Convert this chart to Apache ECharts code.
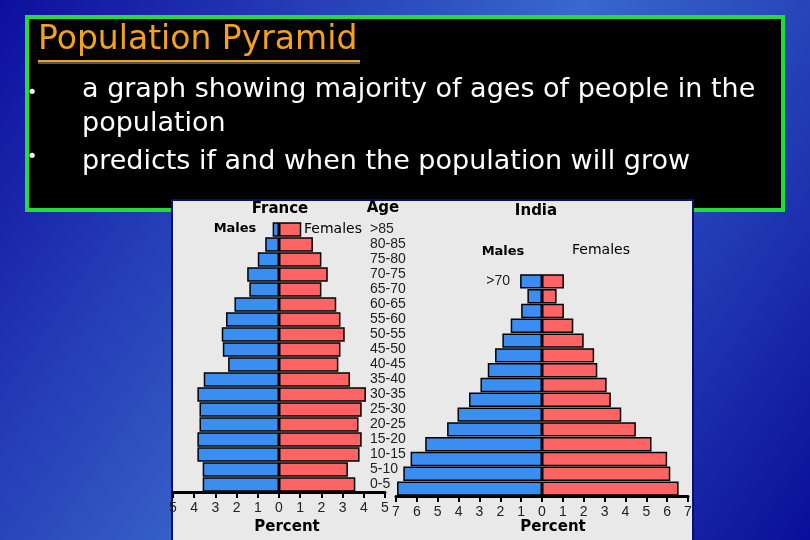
<!DOCTYPE html>
<html>
<head>
<meta charset="utf-8">
<script src="https://cdn.jsdelivr.net/npm/echarts@6/dist/echarts.min.js"></script>
<style>
html,body{margin:0;padding:0;width:810px;height:540px;overflow:hidden;}
#chart{width:810px;height:540px;}
</style>
</head>
<body>
<div id="chart"></div>
<script>
// ---- Data ----
const franceAges = ['0-5','5-10','10-15','15-20','20-25','25-30','30-35','35-40','40-45','45-50','50-55','55-60','60-65','65-70','70-75','75-80','80-85','>85'];
const franceMales   = [3.6,3.6,3.85,3.85,3.75,3.75,3.85,3.55,2.4,2.65,2.7,2.5,2.1,1.4,1.5,1.0,0.65,0.3];
const franceFemales = [3.6,3.25,3.8,3.9,3.75,3.9,4.1,3.35,2.8,2.9,3.1,2.9,2.7,2.0,2.3,2.0,1.6,1.05];

const indiaAges = ['0-5','5-10','10-15','15-20','20-25','25-30','30-35','35-40','40-45','45-50','50-55','55-60','60-65','65-70','>70'];
const indiaMales   = [6.95,6.65,6.3,5.6,4.55,4.05,3.5,2.95,2.6,2.25,1.9,1.5,1.0,0.7,1.05];
const indiaFemales = [6.55,6.15,6.0,5.25,4.5,3.8,3.3,3.1,2.65,2.5,2.0,1.5,1.05,0.7,1.05];

const franceTicks = {min:-5, max:5, interval:1};
const indiaTicks  = {min:-7, max:7, interval:1};

const slideTitle = 'Population Pyramid';
const bullet1a = 'a graph showing majority of ages of people in the';
const bullet1b = 'population';
const bullet2  = 'predicts if and when the population will grow';

const BLUE = '#3a8ef2', RED = '#ff6464';

const chart = echarts.init(document.getElementById('chart'), null, {renderer:'canvas'});

const tickFont = {color:'#222', fontFamily:'Liberation Sans', fontSize:14};
function xAxisCfg(grid, t, namePad){
  return {
    type:'value', gridIndex:grid, min:t.min, max:t.max, interval:t.interval, z:3,
    axisLine:{show:true, lineStyle:{color:'#000', width:3}},
    axisTick:{show:true, length:6, lineStyle:{color:'#000', width:2}},
    axisLabel:Object.assign({margin:9, formatter:v=>String(Math.abs(v))}, tickFont),
    splitLine:{show:false},
    name:'Percent', nameLocation:'middle', nameGap:24,
    nameTextStyle:{color:'#000', fontFamily:'DejaVu Sans', fontWeight:'bold', fontSize:15, padding:[0,0,0,namePad]}
  };
}
const barBase = {type:'bar', barCategoryGap:'3%', z:4,
  itemStyle:{borderColor:'#000', borderWidth:1.5}};

const textFont = '27px "DejaVu Sans"';
const option = {
  backgroundColor:{type:'linear', x:0, y:0, x2:1, y2:1, colorStops:[
    {offset:0, color:'#0e0e9e'},{offset:0.5, color:'#3a68cc'},{offset:1, color:'#0a0e9a'}]},
  animation:false,
  grid:[
    {left:173, right:810-385, top:222, bottom:540-493},
    {left:396, right:810-688, top:274, bottom:540-496}
  ],
  xAxis:[ xAxisCfg(0, franceTicks, 16), xAxisCfg(1, indiaTicks, 22) ],
  yAxis:[
    {type:'category', gridIndex:0, data:franceAges, position:'right', offset:-15, z:3,
     axisLine:{show:false}, axisTick:{show:false},
     axisLabel:Object.assign({margin:0, align:'left', interval:0}, tickFont)},
    {type:'category', gridIndex:1, data:indiaAges, position:'left', offset:-118, z:3,
     axisLine:{show:false}, axisTick:{show:false},
     axisLabel:Object.assign({margin:4, interval:0, formatter:v=> v==='>70'? v : ''}, tickFont)}
  ],
  series:[
    Object.assign({}, barBase, {name:'France Males', xAxisIndex:0, yAxisIndex:0, stack:'fr',
      data:franceMales.map(v=>-v), itemStyle:Object.assign({}, barBase.itemStyle, {color:BLUE})}),
    Object.assign({}, barBase, {name:'France Females', xAxisIndex:0, yAxisIndex:0, stack:'fr',
      data:franceFemales, itemStyle:Object.assign({}, barBase.itemStyle, {color:RED})}),
    Object.assign({}, barBase, {name:'India Males', xAxisIndex:1, yAxisIndex:1, stack:'in',
      data:indiaMales.map(v=>-v), itemStyle:Object.assign({}, barBase.itemStyle, {color:BLUE})}),
    Object.assign({}, barBase, {name:'India Females', xAxisIndex:1, yAxisIndex:1, stack:'in',
      data:indiaFemales, itemStyle:Object.assign({}, barBase.itemStyle, {color:RED})})
  ],
  graphic:[
    {type:'rect', z:0, shape:{x:27, y:17, width:756, height:193}, style:{fill:'#000', stroke:'#22dd33', lineWidth:4}},
    {type:'rect', z:1, shape:{x:172, y:200, width:521, height:350}, style:{fill:'#e9e9e9', stroke:'#0a1070', lineWidth:2}},
    {type:'text', z:10, left:38, top:24, style:{text:slideTitle, fill:'#f4a020', font:'33px "DejaVu Sans"'}},
    {type:'line', z:10, shape:{x1:38, y1:61, x2:360, y2:61}, style:{stroke:'#f4a020', lineWidth:2, shadowColor:'#555', shadowOffsetY:2}},
    {type:'text', z:10, x:32, y:93, style:{text:'•', fill:'#fff', font:'18px "DejaVu Sans"', align:'center', verticalAlign:'middle'}},
    {type:'text', z:10, x:32, y:157, style:{text:'•', fill:'#fff', font:'18px "DejaVu Sans"', align:'center', verticalAlign:'middle'}},
    {type:'text', z:10, x:82, y:90, style:{text:bullet1a, fill:'#fff', font:textFont, verticalAlign:'middle'}},
    {type:'text', z:10, x:82, y:124, style:{text:bullet1b, fill:'#fff', font:textFont, verticalAlign:'middle'}},
    {type:'text', z:10, x:82, y:162, style:{text:bullet2, fill:'#fff', font:textFont, verticalAlign:'middle'}},
    {type:'text', z:10, x:280, y:209, style:{text:'France', fill:'#000', font:'bold 15px "DejaVu Sans"', align:'center', verticalAlign:'middle'}},
    {type:'text', z:10, x:383, y:208, style:{text:'Age', fill:'#000', font:'bold 15px "DejaVu Sans"', align:'center', verticalAlign:'middle'}},
    {type:'text', z:10, x:536, y:211, style:{text:'India', fill:'#000', font:'bold 15px "DejaVu Sans"', align:'center', verticalAlign:'middle'}},
    {type:'text', z:10, x:235, y:229, style:{text:'Males', fill:'#000', font:'bold 13px "DejaVu Sans"', align:'center', verticalAlign:'middle'}},
    {type:'text', z:10, x:333, y:229, style:{text:'Females', fill:'#000', font:'14px "DejaVu Sans"', align:'center', verticalAlign:'middle'}},
    {type:'text', z:10, x:503, y:252, style:{text:'Males', fill:'#000', font:'bold 13px "DejaVu Sans"', align:'center', verticalAlign:'middle'}},
    {type:'text', z:10, x:601, y:250, style:{text:'Females', fill:'#000', font:'14px "DejaVu Sans"', align:'center', verticalAlign:'middle'}}
  ]
};
chart.setOption(option);
</script>
</body>
</html>
